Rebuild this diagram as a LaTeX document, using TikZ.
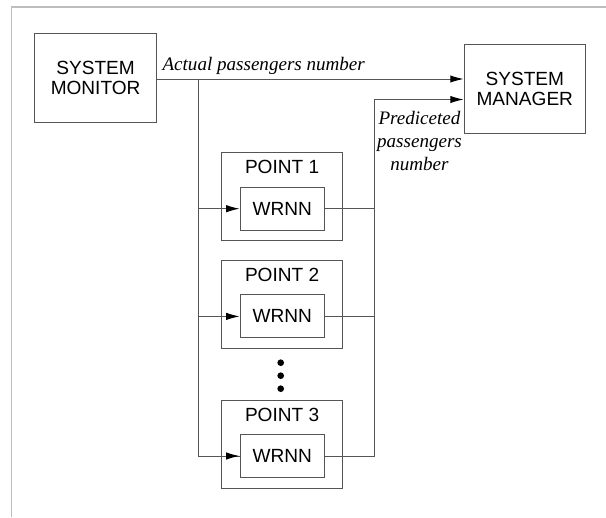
\documentclass[tikz,border=0pt]{standalone}
\usepackage{fontspec}
\setmainfont{Liberation Sans}
\newfontfamily\flowfamily{Liberation Serif}
\usetikzlibrary{arrows.meta}
\definecolor{framegray}{HTML}{BDBDBD}
\definecolor{linegray}{HTML}{555555}
\newcommand{\flowfont}{\flowfamily\fontsize{14.3}{17.5}\selectfont\itshape}
\tikzset{
  blockbox/.style={draw=linegray, line width=0.75pt, inner sep=0pt, align=center,
    font=\fontsize{14.3}{14.8}\selectfont},
  flow/.style={draw=linegray, line width=0.75pt, -{Latex[length=10pt,width=5.5pt,color=black]}},
  wire/.style={draw=linegray, line width=0.75pt}
}

\begin{document}
\begin{tikzpicture}[x=0.75pt, y=-0.75pt]
        % Fix the page size
        \useasboundingbox (0,0) rectangle (606,517);
        % Frame of the page
        \draw[framegray, line width=1.1pt] (11.7,517) -- (11.7,7) -- (606,7);
        % Monitor and manager blocks
        \node[blockbox, minimum width=91pt, minimum height=67pt] (monitor) at (95.6,78) {SYSTEM\\MONITOR};
        \node[blockbox, minimum width=91pt, minimum height=67pt] (manager) at (524.8,88.8) {SYSTEM\\MANAGER};
        % Point blocks with their captions
        \node[blockbox, minimum width=91pt, minimum height=66pt] (point1) at (282.1,196.7) {};
        \node[blockbox, minimum width=91pt, minimum height=66pt] (point2) at (282.1,304.5) {};
        \node[blockbox, minimum width=91pt, minimum height=66pt] (point3) at (282.1,444.2) {};
        \node[font=\fontsize{14.3}{14.8}\selectfont] (cap1) at (282.1,167.3) {POINT 1};
        \node[font=\fontsize{14.3}{14.8}\selectfont] (cap2) at (282.1,275) {POINT 2};
        \node[font=\fontsize{14.3}{14.8}\selectfont] (cap3) at (282.1,414.5) {POINT 3};
        % WRNN blocks inside the points
        \node[blockbox, minimum width=63.2pt, minimum height=32.2pt] (wrnn1) at (282.2,208.7) {WRNN};
        \node[blockbox, minimum width=63.2pt, minimum height=32.2pt] (wrnn2) at (282.2,316.4) {WRNN};
        \node[blockbox, minimum width=63.2pt, minimum height=32.2pt] (wrnn3) at (282.2,456) {WRNN};
        % The dots between point 2 and point 3
        \fill (280.7,362.7) circle (2.5pt);
        \fill (280.7,375.7) circle (2.5pt);
        \fill (280.7,388.7) circle (2.5pt);
        % Bus lines left and right of the points
        \coordinate (lbus) at (198.5,79);
        \coordinate (rbus) at (374,99.5);
        % Actual number goes to the manager and to every WRNN
        \draw[flow] (monitor.east |- lbus) -- (lbus -| manager.west);
        \node[anchor=base west, inner sep=0pt, font=\flowfont] (actual) at (162.3,70) {Actual passengers number};
        \draw[wire] (lbus) |- (wrnn3.west);
        \draw[flow] (lbus |- wrnn1.west) -- (wrnn1.west);
        \draw[flow] (lbus |- wrnn2.west) -- (wrnn2.west);
        \draw[flow] (lbus |- wrnn3.west) -- (wrnn3.west);
        % Predicted numbers are collected and go to the manager
        \draw[wire] (wrnn1.east) -- (wrnn1.east -| rbus);
        \draw[wire] (wrnn2.east) -- (wrnn2.east -| rbus);
        \draw[flow] (wrnn3.east) -| (rbus) -- (rbus -| manager.west);
        \node[align=center, inner sep=0pt, font=\flowfont] (predicted) at (419.5,141) {Prediceted\\passengers\\number};
    \end{tikzpicture}
\end{document}
